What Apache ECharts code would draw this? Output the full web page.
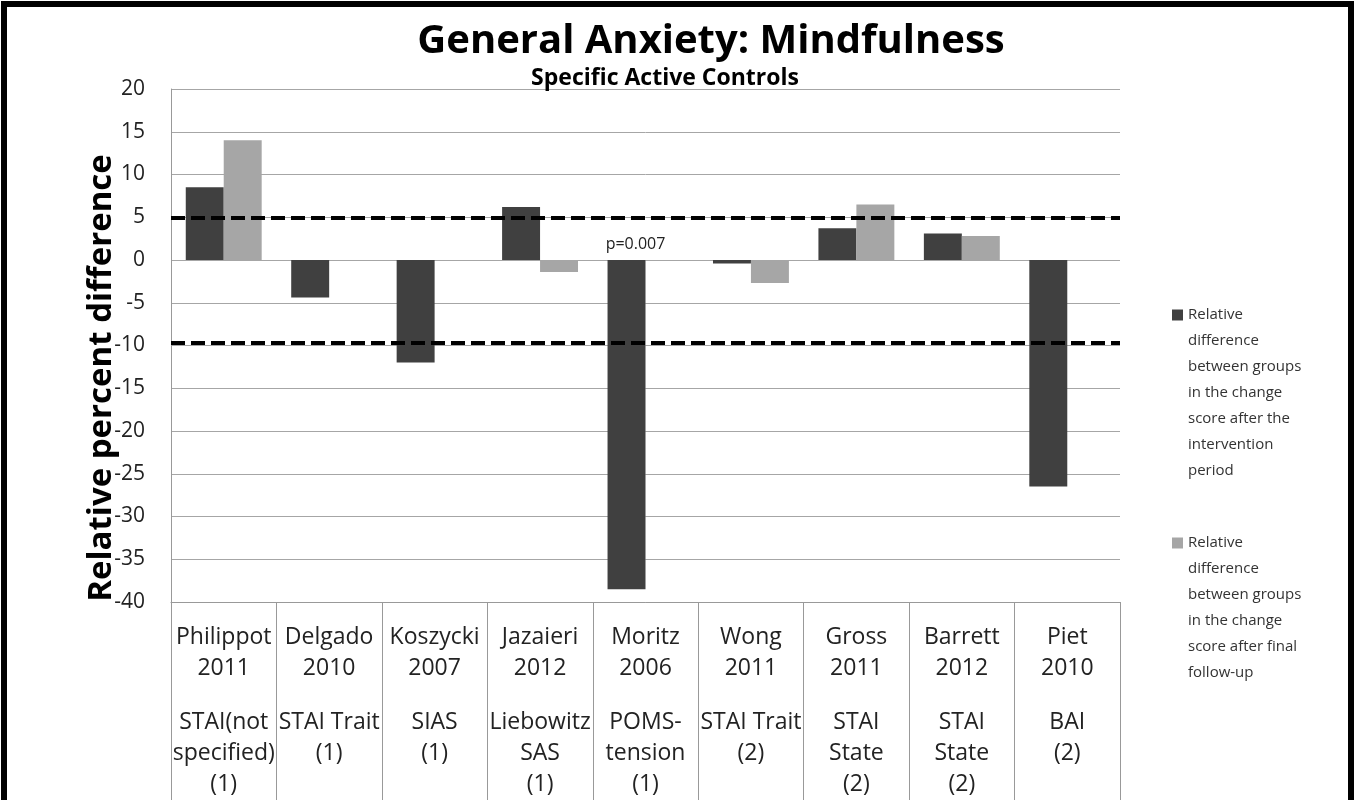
<!DOCTYPE html>
<html>
<head>
<meta charset="utf-8">
<script src="https://cdn.jsdelivr.net/npm/echarts@6/dist/echarts.min.js"></script>
<style>
  html, body { margin: 0; padding: 0; background: #fff; }
  #chart { width: 1357px; height: 800px; }
</style>
</head>
<body>
<div id="chart"></div>
<script>
const studies = [
  'Philippot\n2011\n\nSTAI(not\nspecified)\n(1)',
  'Delgado\n2010\n\nSTAI Trait\n(1)',
  'Koszycki\n2007\n\nSIAS\n(1)',
  'Jazaieri\n2012\n\nLiebowitz\nSAS\n(1)',
  'Moritz\n2006\n\nPOMS-\ntension\n(1)',
  'Wong\n2011\n\nSTAI Trait\n(2)',
  'Gross\n2011\n\nSTAI\nState\n(2)',
  'Barrett\n2012\n\nSTAI\nState\n(2)',
  'Piet\n2010\n\nBAI\n(2)'
];
const afterIntervention = [8.5, -4.4, -12.0, 6.2, -38.5, -0.4, 3.7, 3.1, -26.5];
const afterFollowUp = [14.0, null, null, -1.4, null, -2.7, 6.5, 2.8, null];
const thresholds = [5.0, -9.7];
const seriesNames = [
  'Relative difference between groups in the change score after the intervention period',
  'Relative difference between groups in the change score after final follow-up'
];
const legendLines = [
  ['Relative', 'difference', 'between groups', 'in the change', 'score after the', 'intervention', 'period'],
  ['Relative', 'difference', 'between groups', 'in the change', 'score after final', 'follow-up']
];

const font = '"Open Sans", "Noto Sans", sans-serif';
const legendLineHeight = 26;
const chart = echarts.init(document.getElementById('chart'));

// one legend per series; blank lines on top keep the square beside the first line
function makeLegend(i, iconCenterY) {
  const lines = legendLines[i];
  const pad = new Array(lines.length - 1).fill(' ');
  const total = pad.length + lines.length;
  return {
    orient: 'vertical',
    left: 1167,
    top: iconCenterY - (total * legendLineHeight) / 2 - 5,
    itemWidth: 11, itemHeight: 11,
    icon: 'rect',
    data: [seriesNames[i]],
    formatter: () => pad.concat(lines).join('\n'),
    textStyle: {
      fontSize: 15, lineHeight: legendLineHeight, color: '#333', fontFamily: font
    }
  };
}

chart.setOption({
  animation: false,
  textStyle: { fontFamily: font },
  title: [
    {
      text: 'General Anxiety: Mindfulness',
      left: 706, top: 17, textAlign: 'center',
      textStyle: { fontSize: 40, fontWeight: 'bold', color: '#000', fontFamily: font }
    },
    {
      text: 'Specific Active Controls',
      left: 660, top: 62, textAlign: 'center',
      textStyle: { fontSize: 23, fontWeight: 'bold', color: '#000', fontFamily: font }
    }
  ],
  graphic: [
    {
      type: 'rect',
      shape: { x: 4, y: 4, width: 1347, height: 820 },
      style: { fill: 'none', stroke: '#000', lineWidth: 6 }
    },
    {
      type: 'text',
      x: 102, y: 378, rotation: Math.PI / 2,
      style: {
        text: 'Relative percent difference',
        font: 'bold 33px ' + font,
        fill: '#000',
        align: 'center', verticalAlign: 'middle'
      }
    }
  ],
  legend: [makeLegend(0, 315), makeLegend(1, 543)],
  grid: { left: 171, right: 237, top: 89, bottom: 198 },
  xAxis: {
    type: 'category',
    data: studies,
    axisLine: { onZero: false, lineStyle: { color: '#999' } },
    axisTick: { show: true, interval: 0, length: 210, lineStyle: { color: '#999' } },
    axisLabel: {
      interval: 0, margin: 20,
      fontSize: 23, lineHeight: 31, color: '#222', fontFamily: font,
      verticalAlign: 'top',
      formatter: v => v.replace('\n\n', '\n{g| }\n'),
      rich: { g: { fontSize: 8, lineHeight: 23 } }
    }
  },
  yAxis: {
    type: 'value',
    min: -40, max: 20, interval: 5,
    axisLine: { show: true, lineStyle: { color: '#999' } },
    axisTick: { show: false },
    axisLabel: { fontSize: 21, color: '#222', margin: 26, fontFamily: font },
    splitLine: { lineStyle: { color: '#a6a6a6', width: 1 } }
  },
  series: [
    {
      name: seriesNames[0],
      type: 'bar',
      data: afterIntervention,
      barGap: '0%',
      barCategoryGap: '28%',
      itemStyle: { color: '#404040' },
      markPoint: {
        symbol: 'circle', symbolSize: 0,
        data: [{
          coord: [4, 0],
          label: {
            show: true, formatter: 'p=0.007', position: 'top',
            offset: [9, -3], fontSize: 16, color: '#222', fontFamily: font
          }
        }]
      },
      markLine: {
        silent: true, symbol: 'none',
        label: { show: false },
        lineStyle: { color: '#000', type: [14, 6], width: 4 },
        data: thresholds.map(v => ({ yAxis: v }))
      }
    },
    {
      name: seriesNames[1],
      type: 'bar',
      data: afterFollowUp,
      barGap: '0%',
      barCategoryGap: '28%',
      itemStyle: { color: '#a6a6a6' }
    }
  ]
});
</script>
</body>
</html>
